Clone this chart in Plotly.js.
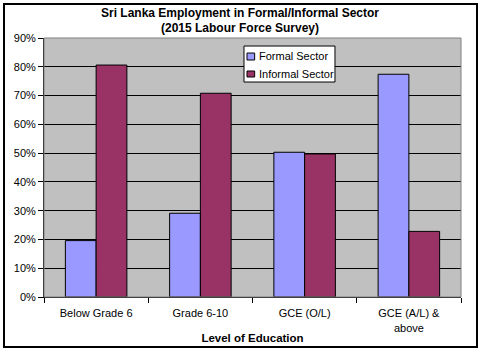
<!DOCTYPE html>
<html>
<head>
<meta charset="utf-8">
<script src="https://cdn.plot.ly/plotly-3.0.1.min.js"></script>
<style>
body{margin:0;padding:0;background:#fff;}
#wrap{position:relative;width:480px;height:352px;}
#chart{width:480px;height:352px;}
#frame{position:absolute;left:3px;top:3px;width:471px;height:341px;border:2px solid #000;pointer-events:none;}
</style>
</head>
<body>
<div id="wrap"><div id="chart"></div><div id="frame"></div></div>
<script>
const categories = ["Below Grade 6", "Grade 6-10", "GCE (O/L)", "GCE (A/L) &<br>above"];
const seriesNames = ["Formal Sector", "Informal Sector"];
const formalSector = [0.196, 0.291, 0.503, 0.774];
const informalSector = [0.806, 0.708, 0.497, 0.228];
const yTickVals = [0,0.1,0.2,0.3,0.4,0.5,0.6,0.7,0.8,0.9];
const colors = ["#9999FF", "#993366"];
const fontFam = "Liberation Sans, Arial, sans-serif";

const traces = [
  {type:"bar", name:seriesNames[0], x:categories, y:formalSector,
   marker:{color:colors[0], line:{color:"#000", width:1}}},
  {type:"bar", name:seriesNames[1], x:categories, y:informalSector,
   marker:{color:colors[1], line:{color:"#000", width:1}}},
  {type:"scatter", x:[-0.5,3.5], y:[0,0], xaxis:"x2", mode:"none", showlegend:false, hoverinfo:"skip"}
];

// custom compact legend (Excel style)
const lg = {x0:0.4796, x1:0.6978, y0:0.830, y1:0.969};
const sq = [{y0:0.915, y1:0.942, ty:0.9305}, {y0:0.8494, y1:0.8726, ty:0.861}];
const shapes = [
  {type:"rect", xref:"paper", yref:"paper", x0:0, x1:1, y0:0, y1:1, line:{color:"#808080", width:1}},
  {type:"rect", xref:"paper", yref:"paper", x0:lg.x0, x1:lg.x1, y0:lg.y0, y1:lg.y1, fillcolor:"#fff", line:{color:"#000", width:1}, layer:"above"}
];
const annotations = [];
seriesNames.forEach((n,i)=>{
  shapes.push({type:"rect", xref:"paper", yref:"paper", x0:0.4868, x1:0.5052, y0:sq[i].y0, y1:sq[i].y1,
               fillcolor:colors[i], line:{color:"#000", width:1}, layer:"above"});
  annotations.push({xref:"paper", yref:"paper", x:0.511, y:sq[i].ty, xanchor:"left", yanchor:"middle",
                    text:n, showarrow:false, font:{size:11, color:"#000"}});
});

const layout = {
  width:480, height:352,
  margin:{l:44, r:19, t:38, b:55},
  paper_bgcolor:"#fff",
  plot_bgcolor:"#C0C0C0",
  font:{family:fontFam, size:11, color:"#000"},
  title:{text:"<b>Sri Lanka Employment in Formal/Informal Sector<br>(2015 Labour Force Survey)</b>",
         x:0.5, xref:"container", xanchor:"center", y:0.952, yanchor:"middle", yref:"container",
         font:{family:fontFam, size:12, color:"#000"}},
  barmode:"group", bargap:0.41, bargroupgap:0,
  showlegend:false,
  xaxis:{type:"category", showline:true, linecolor:"#000", linewidth:1, ticks:"",
         showgrid:false, tickfont:{size:11}, ticklabelstandoff:6,
         title:{text:"<b>Level of Education</b>", font:{size:11.5}, standoff:1}},
  xaxis2:{overlaying:"x", range:[-0.5,3.5], tickvals:[-0.5,0.5,1.5,2.5,3.5], ticks:"outside",
          ticklen:5, tickcolor:"#000", showticklabels:false, showgrid:false, zeroline:false,
          side:"bottom", anchor:"y"},
  yaxis:{range:[0,0.9], tickvals:yTickVals, tickformat:".0%", showline:true, linecolor:"#000",
         linewidth:1, ticks:"outside", ticklen:5, tickcolor:"#000", showgrid:true, gridcolor:"#000",
         gridwidth:1, zeroline:false, tickfont:{size:11}},
  shapes:shapes,
  annotations:annotations
};

Plotly.newPlot("chart", traces, layout, {displayModeBar:false, staticPlot:true});
</script>
</body>
</html>
